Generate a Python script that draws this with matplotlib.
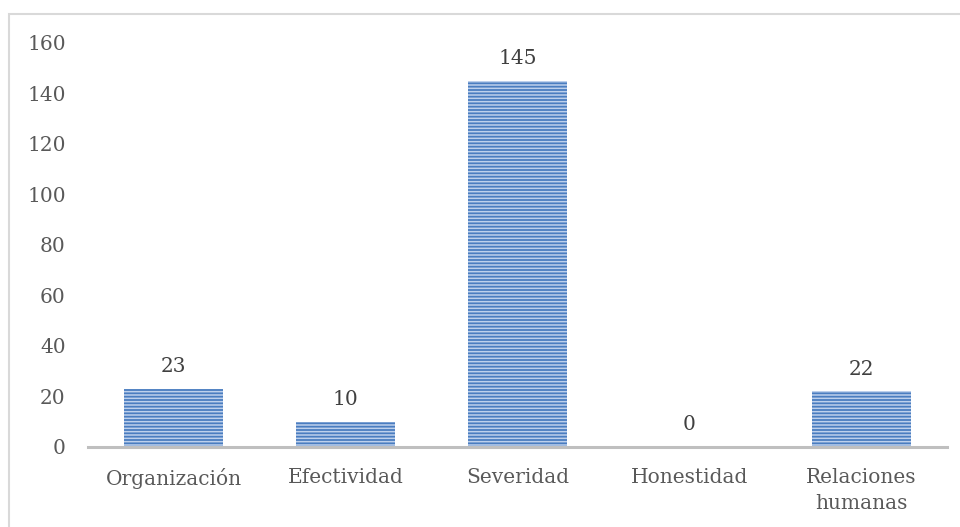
import matplotlib
matplotlib.use("Agg")
import matplotlib.pyplot as plt
from matplotlib.patches import Rectangle

# ---------- data ----------
categories = ["Organización", "Efectividad", "Severidad", "Honestidad", "Relaciones\nhumanas"]
values = [23, 10, 145, 0, 22]
y_ticks = [0, 20, 40, 60, 80, 100, 120, 140, 160]

plt.rcParams.update({
    "font.family": ["DejaVu Serif"],
    "font.size": 14.5,
    "hatch.linewidth": 1.1,
})

TEXT = "#595959"
BAR = "#4A7DC0"
STRIPE = "#BDD0EC"

fig = plt.figure(figsize=(9.6, 5.27), dpi=100)
ax = fig.add_axes([88 / 960, 1 - 447 / 527, (947 - 88) / 960, (447 - 43) / 527])

x = range(len(categories))
ax.bar(x, values, width=0.576, color=BAR, edgecolor=STRIPE,
       linewidth=0, hatch="-----", zorder=2)

for xi, v in zip(x, values):
    ax.annotate(str(v), (xi, v), xytext=(0, 9), textcoords="offset points",
                ha="center", va="bottom", color="#404040", fontsize=14.5)

ax.set_xlim(-0.5, len(categories) - 0.5)
ax.set_ylim(0, 160)
ax.set_yticks(y_ticks)
ax.set_xticks(list(x))
ax.set_xticklabels(categories, linespacing=1.5)
ax.tick_params(axis="both", length=0, colors=TEXT, labelsize=14.5)
ax.tick_params(axis="y", pad=16)
ax.tick_params(axis="x", pad=15)

for s in ["top", "right", "left"]:
    ax.spines[s].set_visible(False)
ax.spines["bottom"].set_color("#BFBFBF")
ax.spines["bottom"].set_linewidth(2.2)
ax.spines["bottom"].set_zorder(3)

# chart area border (partly cropped in the original)
fig.patches.append(Rectangle((9 / 960, -0.1), 1.2, 1 - 14 / 527 + 0.1,
                             transform=fig.transFigure, fill=False,
                             edgecolor="#D9D9D9", linewidth=1.5))

fig.savefig("out.png", dpi=100, facecolor="white")
